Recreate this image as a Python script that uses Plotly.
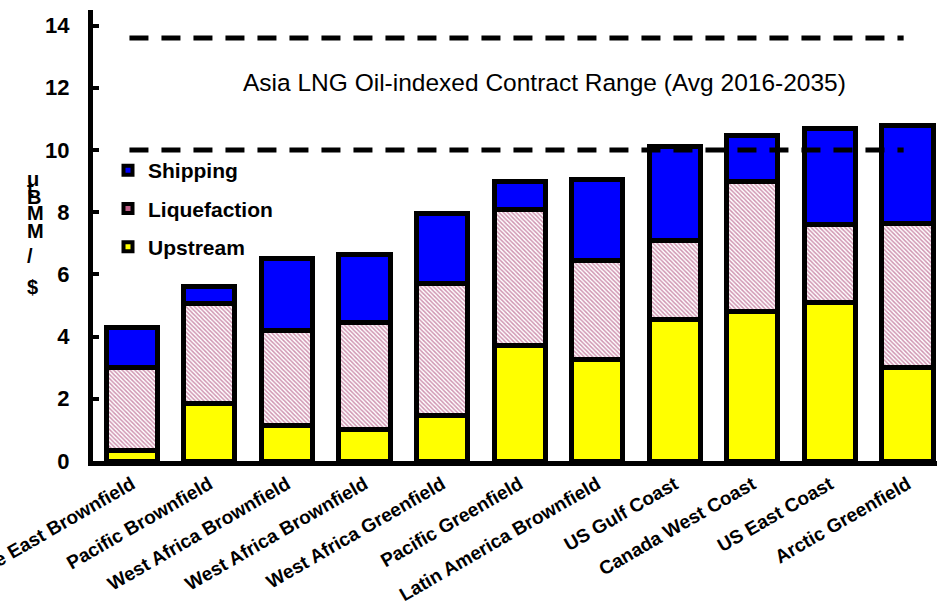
import plotly.graph_objects as go

# LNG supply cost build-up by project, $/MMBtu
categories = [
    "Middle East Brownfield", "Pacific Brownfield", "West Africa Brownfield",
    "West Africa Brownfield", "West Africa Greenfield", "Pacific Greenfield",
    "Latin America Brownfield", "US Gulf Coast", "Canada West Coast",
    "US East Coast", "Arctic Greenfield",
]
upstream = [0.35, 1.85, 1.15, 1.0, 1.45, 3.7, 3.25, 4.55, 4.8, 5.1, 3.0]
liquefaction = [2.65, 3.2, 3.05, 3.45, 4.25, 4.4, 3.2, 2.55, 4.2, 2.5, 4.65]
shipping = [1.3, 0.55, 2.3, 2.2, 2.25, 0.9, 2.6, 3.0, 1.45, 3.1, 3.15]

# Asia oil-indexed contract price band
range_low = 10.0
range_high = 13.6
range_label = "Asia LNG Oil-indexed Contract Range (Avg 2016-2035)"

y_ticks = [0, 2, 4, 6, 8, 10, 12, 14]
y_title_chars = ["u", "t", "B", "M", "M", "/", "$"]
y_title_px = [179, 189, 197, 213, 231, 256, 287]

FONT = "Liberation Sans"
W, H = 937, 603
M_L, M_R, M_T, M_B = 93, 0, 10, 142
plot_h = H - M_T - M_B
plot_w = W - M_L - M_R

xs = list(range(len(categories)))
outline = dict(color="black", width=5)
YELLOW, BLUE, PINK = "#FFFF00", "#0000FF", "#c06088"

fig = go.Figure()
fig.add_trace(go.Bar(
    x=xs, y=upstream, name="Upstream", showlegend=False,
    marker=dict(color=YELLOW, line=outline),
))
fig.add_trace(go.Bar(
    x=xs, y=liquefaction, name="Liquefaction", showlegend=False,
    marker=dict(
        color="white", line=outline,
        pattern=dict(shape="\\", fgcolor="#a02c64", bgcolor="white",
                     size=3, solidity=0.5),
    ),
))
fig.add_trace(go.Bar(
    x=xs, y=shipping, name="Shipping", showlegend=False,
    marker=dict(color=BLUE, line=outline),
))

# legend keys: small filled squares with a heavy black frame
for rank, (name, colour) in enumerate(
        [("Shipping", BLUE), ("Liquefaction", PINK), ("Upstream", YELLOW)]):
    fig.add_trace(go.Scatter(
        x=[None], y=[None], mode="markers", name=name,
        legendgroup=name, legendrank=rank + 1,
        marker=dict(symbol="square", size=9, color=colour,
                    line=dict(color="black", width=4)),
    ))

for level in (range_high, range_low):
    fig.add_shape(
        type="line", xref="x", yref="y",
        x0=-0.03, x1=9.95, y0=level, y1=level,
        line=dict(color="black", width=5, dash="19px,13px"),
        layer="above",
    )

fig.add_annotation(
    x=5.32, y=12.18, xref="x", yref="y", text=range_label,
    showarrow=False, font=dict(family=FONT, size=24.5, color="black"),
)

for ch, py in zip(y_title_chars, y_title_px):
    fig.add_annotation(
        x=(25 - M_L) / plot_w, y=(H - M_B - py) / plot_h,
        xref="paper", yref="paper", text=ch, showarrow=False,
        font=dict(family=FONT, size=20, color="black", weight="bold"),
    )

fig.update_layout(
    width=W, height=H,
    margin=dict(l=M_L, r=M_R, t=M_T, b=M_B, autoexpand=False),
    barmode="stack", bargap=0.34,
    paper_bgcolor="white", plot_bgcolor="white",
    font=dict(family=FONT, color="black"),
    legend=dict(
        x=(108 - M_L) / plot_w, y=(H - M_B - 150) / plot_h,
        xanchor="left", yanchor="top",
        traceorder="grouped", tracegroupgap=8,
        bgcolor="rgba(0,0,0,0)",
        font=dict(family=FONT, size=21, color="black", weight="bold"),
    ),
    xaxis=dict(
        range=[-0.5, 10.38], tickvals=xs, ticktext=categories,
        tickangle=-30, ticks="", showgrid=False, zeroline=False,
        showline=True, linecolor="black", linewidth=5,
        tickfont=dict(family=FONT, size=19, color="black", weight="bold"),
        ticklabeloverflow="allow", automargin=False,
    ),
    yaxis=dict(
        range=[0, 14.5], tickvals=y_ticks, ticks="inside", ticklen=6,
        tickwidth=4, tickcolor="black", showgrid=False, zeroline=False,
        showline=True, linecolor="black", linewidth=5,
        tickfont=dict(family=FONT, size=22, color="black", weight="bold"),
        ticklabelstandoff=14, automargin=False,
    ),
    showlegend=True,
)

fig.write_html("out.html")
